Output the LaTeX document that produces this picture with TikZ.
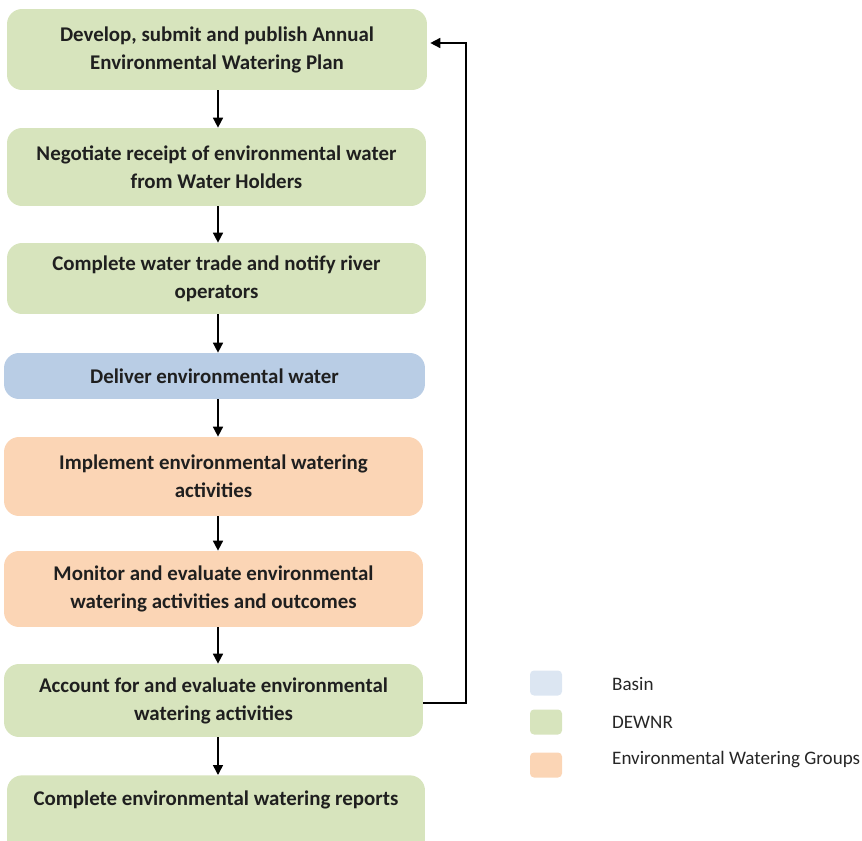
\documentclass[tikz,border=0pt]{standalone}
\usepackage{fontspec}
\setmainfont{Carlito}
\usetikzlibrary{arrows.meta}

\begin{document}
\begin{tikzpicture}[x=0.02cm, y=-0.02cm,
  flowbox/.style={rounded corners=0.3cm, align=center, inner sep=0pt,
    font=\fontsize{11.9pt}{15.9pt}\selectfont\bfseries, text=black!88},
  flowarrow/.style={-{Triangle[length=0.2cm, width=0.2cm]}, line width=0.9pt, black},
  swatch/.style={rounded corners=0.08cm, minimum width=0.64cm, minimum height=0.5cm, inner sep=0pt},
  legendtext/.style={anchor=west, font=\fontsize{10.85pt}{12pt}\selectfont, text=black!85}]

\useasboundingbox (0,0) rectangle (862,841);

% ── Helpers ──
\definecolor{dewnr}{RGB}{215,228,189}
\definecolor{basin}{RGB}{185,205,229}
\definecolor{basinlight}{RGB}{220,230,242}
\definecolor{ewg}{RGB}{251,213,181}

% ── Process steps ──
\node[flowbox, fill=dewnr, minimum width=8.4cm, minimum height=1.62cm] (plan) at (217, 49.5)
  {Develop, submit and publish Annual\\Environmental Watering Plan};
\node[flowbox, fill=dewnr, minimum width=8.38cm, minimum height=1.56cm] (negotiate) at (216.5, 167)
  {Negotiate receipt of environmental water\\from Water Holders};
\node[flowbox, fill=dewnr, minimum width=8.38cm, minimum height=1.42cm] (trade) at (216.5, 278.5)
  {Complete water trade and notify river\\operators};
\node[flowbox, fill=basin, minimum width=8.42cm, minimum height=0.92cm] (deliver) at (214.5, 376)
  {Deliver environmental water};
\node[flowbox, fill=ewg, minimum width=8.38cm, minimum height=1.58cm] (implement) at (213.5, 476.5)
  {Implement environmental watering\\activities};
\node[flowbox, fill=ewg, minimum width=8.38cm, minimum height=1.52cm] (monitor) at (213.5, 589)
  {Monitor and evaluate environmental\\watering activities and outcomes};
\node[flowbox, fill=dewnr, minimum width=8.38cm, minimum height=1.46cm] (account) at (213.5, 700.5)
  {Account for and evaluate environmental\\watering activities};
\node[flowbox, fill=dewnr, minimum width=8.36cm, anchor=north, text height=8pt, text depth=60pt,
  inner ysep=9pt] (reports) at (216, 775)
  {Complete environmental watering reports};

% ── Arrows (one vertical spine) ──
\coordinate (spine) at (218, 0);
\foreach \a/\b in {plan/negotiate, negotiate/trade, trade/deliver, deliver/implement,
                   implement/monitor, monitor/account, account/reports}
  \draw[flowarrow] (spine |- \a.south) -- (spine |- \b.north);

% feedback loop
\coordinate (ret) at (466, 400);
\draw[flowarrow] ([yshift=-0.05cm]account.east) -| (ret) |- ([yshift=0.13cm, xshift=0.06cm]plan.east);

% ── Legend ──
\node[swatch, fill=basinlight] (keybasin) at (546, 683) {};
\node[swatch, fill=dewnr] (keydewnr) at (546, 722) {};
\node[swatch, fill=ewg] (keyewg) at (546, 765) {};
\node[legendtext] (labbasin) at (606, 684) {Basin};
\node[legendtext] (labdewnr) at (606, 722) {DEWNR};
\node[legendtext] (labewg) at (606, 760) {Environmental Watering Groups};

\end{tikzpicture}
\end{document}
